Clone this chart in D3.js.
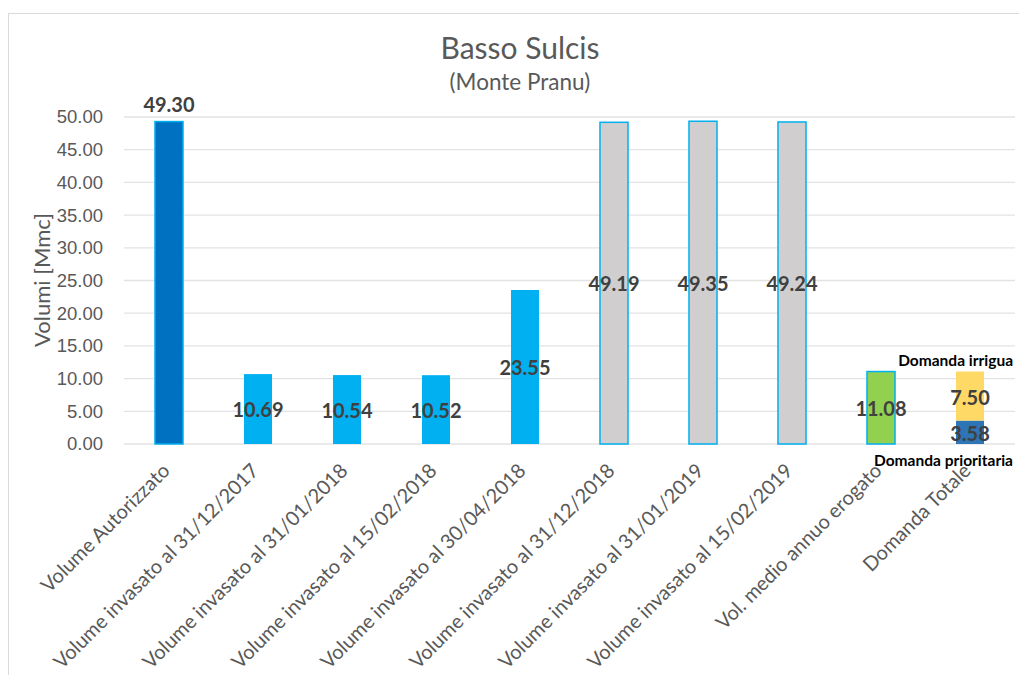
<!DOCTYPE html>
<html>
<head>
<meta charset="utf-8">
<script src="https://cdn.jsdelivr.net/npm/d3@7"></script>
<style>
  body { margin: 0; background: #fff; }
  svg { font-family: Lato, "Open Sans", sans-serif; }
</style>
</head>
<body>
<div class="canvas"></div>
<script>
// data
const categories = [
  'Volume Autorizzato',
  'Volume invasato al 31/12/2017',
  'Volume invasato al 31/01/2018',
  'Volume invasato al 15/02/2018',
  'Volume invasato al 30/04/2018',
  'Volume invasato al 31/12/2018',
  'Volume invasato al 31/01/2019',
  'Volume invasato al 15/02/2019',
  'Vol. medio annuo erogato',
  'Domanda Totale'
];
const volumes = [49.30, 10.69, 10.54, 10.52, 23.55, 49.19, 49.35, 49.24, 11.08, null];
const barKinds = ['auth', 'inv', 'inv', 'inv', 'inv', 'old', 'old', 'old', 'med', null];
const domandaPrioritaria = 3.58;
const domandaIrrigua = 7.50;
const yTicks = [0, 5, 10, 15, 20, 25, 30, 35, 40, 45, 50];

const fills = { auth: '#0070C0', inv: '#00B0F0', old: '#D0CECE', med: '#92D050' };
const strokes = { auth: '#00B0F0', inv: 'none', old: '#00B0F0', med: '#00B0F0' };

const width = 1019, height = 675;
const svg = d3.select('.canvas').append('svg')
    .attr('width', width)
    .attr('height', height);

// chart frame
svg.append('rect')
    .attr('x', 8.5).attr('y', 13.5)
    .attr('width', 1016).attr('height', 700)
    .attr('fill', 'none')
    .attr('stroke', '#D9D9D9');

const x = d3.scaleBand()
    .domain(categories)
    .range([124.5, 1014.5])
    .paddingInner(0.685)
    .paddingOuter(0.3425);

const y = d3.scaleLinear()
    .domain([0, 50])
    .range([444, 117]);

// gridlines
svg.append('g')
    .selectAll('line')
    .data(yTicks)
    .join('line')
    .attr('x1', 124).attr('x2', 1015)
    .attr('y1', d => y(d)).attr('y2', d => y(d))
    .attr('stroke', '#E3E3E3')
    .attr('stroke-width', 1.3);

// y axis
const yAxis = svg.append('g')
    .attr('transform', 'translate(106,0)')
    .call(d3.axisLeft(y).tickValues(yTicks).tickFormat(d3.format('.2f')).tickSize(0));
yAxis.select('.domain').remove();
yAxis.selectAll('text')
    .attr('fill', '#595959')
    .style('font-size', '18.5px');

svg.append('text')
    .attr('transform', 'translate(50,280) rotate(-90)')
    .attr('text-anchor', 'middle')
    .attr('fill', '#595959')
    .style('font-size', '22px')
    .text('Volumi [Mmc]');

// title
svg.append('text')
    .attr('x', 520).attr('y', 59)
    .attr('text-anchor', 'middle')
    .attr('fill', '#595959')
    .style('font-size', '30px')
    .text('Basso Sulcis');
svg.append('text')
    .attr('x', 520).attr('y', 90)
    .attr('text-anchor', 'middle')
    .attr('fill', '#595959')
    .style('font-size', '22.5px')
    .text('(Monte Pranu)');

// bars
const single = categories.map((c, i) => ({ cat: c, v: volumes[i], kind: barKinds[i] }))
    .filter(d => d.v !== null);

svg.append('g')
    .selectAll('rect')
    .data(single)
    .join('rect')
    .attr('x', d => x(d.cat))
    .attr('y', d => y(d.v))
    .attr('width', x.bandwidth())
    .attr('height', d => y(0) - y(d.v))
    .attr('fill', d => fills[d.kind])
    .attr('stroke', d => strokes[d.kind])
    .attr('stroke-width', 1.5);

// stacked bar: Domanda Totale
const stackCat = categories[9];
const stackData = [
  { v0: 0, v1: domandaPrioritaria, fill: '#2E75B6', label: domandaPrioritaria },
  { v0: domandaPrioritaria, v1: domandaPrioritaria + domandaIrrigua, fill: '#FFD966', label: domandaIrrigua }
];
svg.append('g')
    .selectAll('rect')
    .data(stackData)
    .join('rect')
    .attr('x', x(stackCat))
    .attr('y', d => y(d.v1))
    .attr('width', x.bandwidth())
    .attr('height', d => y(d.v0) - y(d.v1))
    .attr('fill', d => d.fill);

// value labels
const lbl = svg.append('g')
    .attr('fill', '#404040')
    .attr('text-anchor', 'middle')
    .style('font-size', '20px')
    .style('font-weight', 'bold');

lbl.selectAll('text.v')
    .data(single)
    .join('text')
    .attr('class', 'v')
    .attr('x', d => x(d.cat) + x.bandwidth() / 2)
    .attr('y', d => d.kind === 'auth' ? y(d.v) - 10 : (y(d.v) + y(0)) / 2 + 1)
    .attr('dy', d => d.kind === 'auth' ? 0 : '0.35em')
    .text(d => d3.format('.2f')(d.v));

lbl.selectAll('text.s')
    .data(stackData)
    .join('text')
    .attr('class', 's')
    .attr('x', x(stackCat) + x.bandwidth() / 2)
    .attr('y', d => (y(d.v0) + y(d.v1)) / 2 + 2)
    .attr('dy', '0.35em')
    .text(d => d3.format('.2f')(d.label));

// series names at the stacked bar
svg.append('text')
    .attr('x', 1013).attr('y', 366)
    .attr('text-anchor', 'end')
    .attr('fill', '#000')
    .style('font-size', '15.5px')
    .style('font-weight', 'bold')
    .text('Domanda irrigua');
svg.append('text')
    .attr('x', 1013).attr('y', 466)
    .attr('text-anchor', 'end')
    .attr('fill', '#000')
    .style('font-size', '15.5px')
    .style('font-weight', 'bold')
    .text('Domanda prioritaria');

// category labels
svg.append('g')
    .selectAll('text')
    .data(categories)
    .join('text')
    .attr('transform', d => `translate(${x(d) + x.bandwidth() / 2 + 2},${472}) rotate(-45)`)
    .attr('text-anchor', 'end')
    .attr('fill', '#595959')
    .style('font-size', '20px')
    .text(d => d);
</script>
</body>
</html>
